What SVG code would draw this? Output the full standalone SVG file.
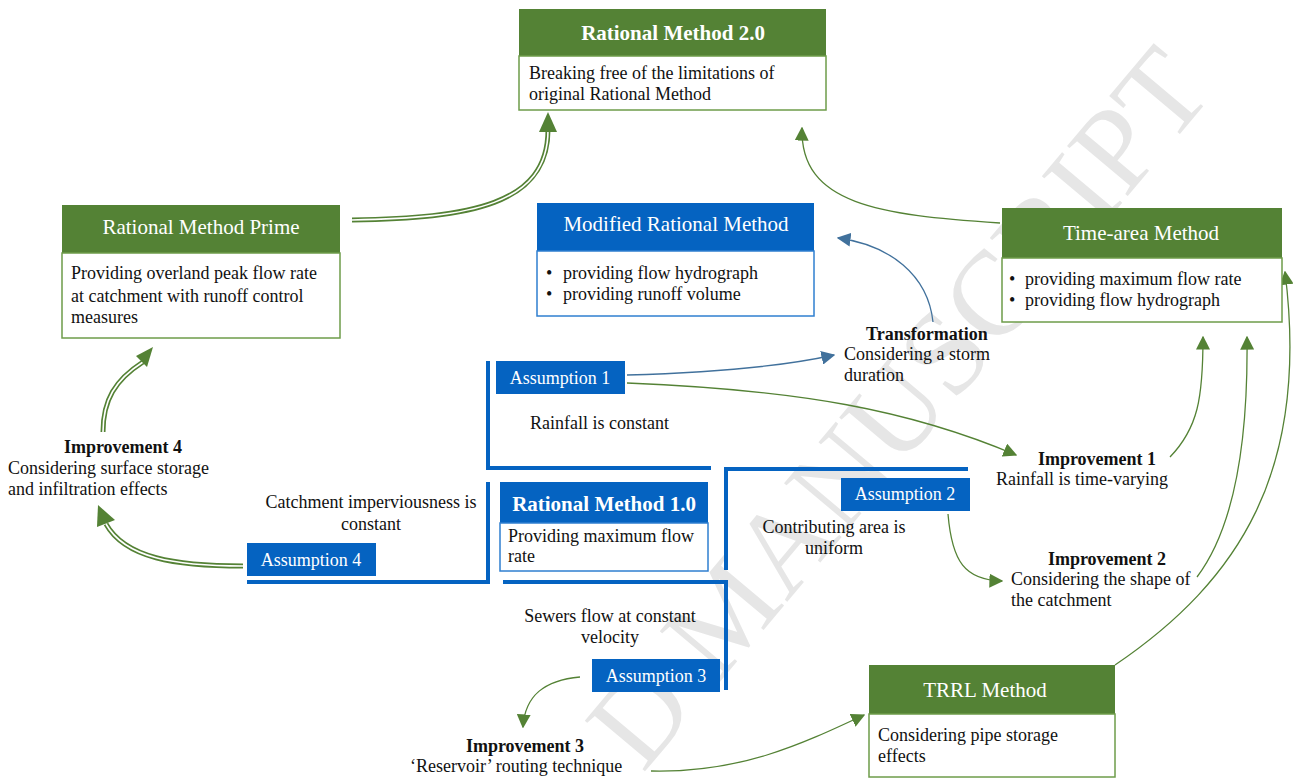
<svg xmlns="http://www.w3.org/2000/svg" width="1298" height="780" viewBox="0 0 1298 780">
<defs>
<style>
text{font-family:"Liberation Serif","Times New Roman",serif;font-size:18px;fill:#111}
.hd{fill:#fff;font-size:21px;text-anchor:middle}
.hb{fill:#fff;font-size:21px;font-weight:bold;text-anchor:middle}
.as{fill:#fff;font-size:18px;text-anchor:middle}
.b{font-weight:bold}
.m{text-anchor:middle}
.gh{fill:#548235}
.bh{fill:#0563C1}
.gb{fill:#fff;stroke:#6E9C4A;stroke-width:1.5}
.bb{fill:#fff;stroke:#2F7FD0;stroke-width:1.5}
.fish{fill:none;stroke:#0563C1;stroke-width:4}
.g{fill:none;stroke:#548235;stroke-width:1.3}
.bl{fill:none;stroke:#41719C;stroke-width:1.3}
.dbo{fill:none;stroke:#548235;stroke-width:5}
.dbi{fill:none;stroke:#fff;stroke-width:1.6}
.wm{fill:#e6e6e6;font-size:120px;font-family:"Liberation Serif",serif}
</style>
<marker id="ag" viewBox="0 0 10 10" refX="9" refY="5" markerWidth="14" markerHeight="14" markerUnits="userSpaceOnUse" orient="auto"><path d="M0,0 L10,5 L0,10 z" fill="#548235"/></marker>
<marker id="ab" viewBox="0 0 10 10" refX="9" refY="5" markerWidth="14" markerHeight="14" markerUnits="userSpaceOnUse" orient="auto"><path d="M0,0 L10,5 L0,10 z" fill="#41719C"/></marker>
</defs>
<rect width="1298" height="780" fill="#fff"/>
<text class="wm" transform="translate(1215,92) rotate(-50)" text-anchor="end">D MANUSCRIPT</text>

<g id="fishbone">
<path class="fish" d="M488,361 V468 H711"/>
<path class="fish" d="M726,570 V469 H968"/>
<path class="fish" d="M488,482 V582 H247"/>
<path class="fish" d="M503,582 H726 V690"/>
</g>

<g id="connectors">
<path class="dbo" d="M352,220 C470,218 548,205 548,130"/>
<path class="dbi" d="M352,220 C470,218 548,205 548,130"/>
<path d="M539,132 L548,112 L557,132 z" fill="#548235"/>
<path class="dbo" d="M243,566 C175,566 125,558 106,524"/>
<path class="dbi" d="M243,566 C175,566 125,558 106,524"/>
<path d="M97,527 L98,505 L115,520 z" fill="#548235"/>
<path class="dbo" d="M103,432 C103,400 115,380 143,362"/>
<path class="dbi" d="M103,432 C103,400 115,380 143,362"/>
<path d="M136,356 L153,347 L147,367 z" fill="#548235"/>
<path class="g" d="M1000,223 C880,215 800,205 802,128" marker-end="url(#ag)"/>
<path class="bl" d="M933,322 C928,275 890,245 838,238" marker-end="url(#ab)"/>
<path class="bl" d="M627,375 C700,373 780,367 834,355" marker-end="url(#ab)"/>
<path class="g" d="M627,383 C800,390 910,410 1016,455" marker-end="url(#ag)"/>
<path class="g" d="M1170,457 C1198,428 1203,398 1203,337" marker-end="url(#ag)"/>
<path class="g" d="M1197,577 C1240,520 1248,420 1247,337" marker-end="url(#ag)"/>
<path class="g" d="M1115,665 C1240,580 1310,470 1285,272" marker-end="url(#ag)"/>
<path class="g" d="M948,514 C952,562 965,580 1002,581" marker-end="url(#ag)"/>
<path class="g" d="M580,677 C545,680 525,695 523,727" marker-end="url(#ag)"/>
<path class="g" d="M651,771 C740,773 800,745 864,715" marker-end="url(#ag)"/>
</g>

<g id="rm20">
<rect class="gh" x="519" y="9" width="307" height="47"/>
<rect class="gb" x="519" y="56" width="307" height="54"/>
<text class="hb" x="673" y="40">Rational Method 2.0</text>
<text x="529" y="79">Breaking free of the limitations of</text>
<text x="529" y="100">original Rational Method</text>
</g>

<g id="rmprime">
<rect class="gh" x="62" y="205" width="278" height="48"/>
<rect class="gb" x="62" y="253" width="278" height="85"/>
<text class="hd" x="201" y="234">Rational Method Prime</text>
<text x="71" y="279">Providing overland peak flow rate</text>
<text x="71" y="302">at catchment with runoff control</text>
<text x="71" y="323">measures</text>
</g>

<g id="modified">
<rect class="bh" x="537" y="203" width="277" height="48"/>
<rect class="bb" x="537" y="251" width="277" height="65"/>
<text class="hd" x="676" y="231">Modified Rational Method</text>
<text x="546" y="279">•</text><text x="563" y="279">providing flow hydrograph</text>
<text x="546" y="300">•</text><text x="563" y="300">providing runoff volume</text>
</g>

<g id="timearea">
<rect class="gh" x="1002" y="208" width="280" height="50"/>
<rect class="gb" x="1002" y="258" width="280" height="64"/>
<text class="hd" x="1141" y="240">Time-area Method</text>
<text x="1009" y="285">•</text><text x="1025" y="285">providing maximum flow rate</text>
<text x="1009" y="306">•</text><text x="1025" y="306">providing flow hydrograph</text>
</g>

<g id="trrl">
<rect class="gh" x="869" y="665" width="246" height="49"/>
<rect class="gb" x="869" y="714" width="246" height="63"/>
<text class="hd" x="985" y="697">TRRL Method</text>
<text x="878" y="741">Considering pipe storage</text>
<text x="878" y="762">effects</text>
</g>

<g id="rm10">
<rect class="bh" x="500" y="482" width="208" height="41"/>
<rect class="bb" x="500" y="523" width="208" height="48"/>
<text class="hb" x="604" y="511">Rational Method 1.0</text>
<text x="508" y="542">Providing maximum flow</text>
<text x="508" y="562">rate</text>
</g>

<g id="assumption1">
<rect class="bh" x="496" y="361" width="129" height="33"/>
<text class="as" x="560" y="384">Assumption 1</text>
<text x="530" y="429">Rainfall is constant</text>
</g>
<g id="assumption2">
<rect class="bh" x="841" y="478" width="129" height="33"/>
<text class="as" x="905" y="500">Assumption 2</text>
<text class="m" x="834" y="533">Contributing area is</text>
<text class="m" x="834" y="554">uniform</text>
</g>
<g id="assumption3">
<rect class="bh" x="592" y="659" width="128" height="33"/>
<text class="as" x="656" y="682">Assumption 3</text>
<text class="m" x="610" y="622">Sewers flow at constant</text>
<text class="m" x="610" y="643">velocity</text>
</g>
<g id="assumption4">
<rect class="bh" x="247" y="543" width="129" height="33"/>
<text class="as" x="311" y="566">Assumption 4</text>
<text class="m" x="371" y="508">Catchment imperviousness is</text>
<text class="m" x="371" y="530">constant</text>
</g>

<g id="transformation">
<text class="b" x="866" y="340">Transformation</text>
<text x="844" y="360">Considering a storm</text>
<text x="844" y="381">duration</text>
</g>
<g id="improvement1">
<text class="b m" x="1097" y="465">Improvement 1</text>
<text x="996" y="485">Rainfall is time-varying</text>
</g>
<g id="improvement2">
<text class="b m" x="1107" y="565">Improvement 2</text>
<text x="1011" y="585">Considering the shape of</text>
<text x="1011" y="606">the catchment</text>
</g>
<g id="improvement3">
<text class="b m" x="525" y="752">Improvement 3</text>
<text x="410" y="772">‘Reservoir’ routing technique</text>
</g>
<g id="improvement4">
<text class="b m" x="123" y="453">Improvement 4</text>
<text x="8" y="474">Considering surface storage</text>
<text x="8" y="495">and infiltration effects</text>
</g>
</svg>
